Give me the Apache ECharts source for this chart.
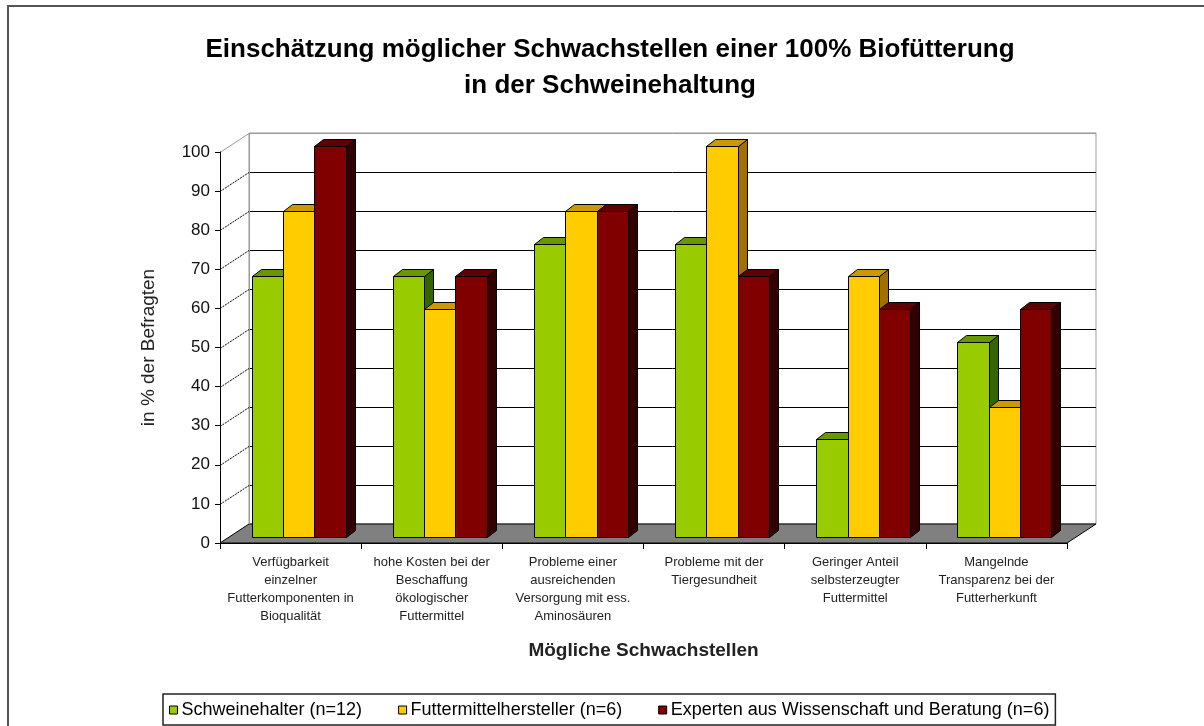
<!DOCTYPE html>
<html><head><meta charset="utf-8">
<script src="https://cdn.jsdelivr.net/npm/echarts@6/dist/echarts.min.js"></script>
<style>html,body{margin:0;padding:0;background:#fff}#c{width:1204px;height:726px}</style>
</head><body><div id="c"></div>
<script>
const categories = [
  "Verfügbarkeit\neinzelner\nFutterkomponenten in\nBioqualität",
  "hohe Kosten bei der\nBeschaffung\nökologischer\nFuttermittel",
  "Probleme einer\nausreichenden\nVersorgung mit ess.\nAminosäuren",
  "Probleme mit der\nTiergesundheit",
  "Geringer Anteil\nselbsterzeugter\nFuttermittel",
  "Mangelnde\nTransparenz bei der\nFutterherkunft"
];
const seriesNames = ["Schweinehalter (n=12)", "Futtermittelhersteller (n=6)", "Experten aus Wissenschaft und Beratung (n=6)"];
const schweinehalter = [66.7, 66.7, 75, 75, 25, 50];
const futtermittelhersteller = [83.3, 58.3, 83.3, 100, 66.7, 33.3];
const experten = [100, 66.7, 83.3, 66.7, 58.3, 58.3];
const yTicks = [0, 10, 20, 30, 40, 50, 60, 70, 80, 90, 100];

const FONT = "'Liberation Sans', Arial, sans-serif";
const palettes = [
  {front: '#99CC00', top: '#669900', side: '#336600'},
  {front: '#FFCC00', top: '#CC9900', side: '#A07000'},
  {front: '#800000', top: '#600000', side: '#330000'}
];
// depth offsets (pixels)
const WALL_DX = 29, WALL_DY = 19;   // back wall
const FACE_DX = 8, FACE_DY = 6;     // bar front face
const BAR_DX = 9, BAR_DY = 7;       // bar depth

function barRender(k) {
  const pal = palettes[k];
  return function (params, api) {
    const cat = api.value(0), val = api.value(1);
    const base = api.coord([cat, 0]);
    const top = api.coord([cat, val]);
    const bandW = api.size([1, 0])[0];
    const bw = bandW * 0.222;
    const x0 = Math.round(base[0] - 1.5 * bw + FACE_DX + k * bw) + 0.5;
    const x1 = Math.round(base[0] - 1.5 * bw + FACE_DX + (k + 1) * bw) + 0.5;
    const yb = Math.round(base[1] - FACE_DY) + 0.5;
    const yt = Math.round(top[1] - FACE_DY) + 0.5;
    const st = {stroke: '#000', lineWidth: 1};
    return {
      type: 'group',
      children: [
        {type: 'polygon', shape: {points: [[x1, yt], [x1 + BAR_DX, yt - BAR_DY], [x1 + BAR_DX, yb - BAR_DY], [x1, yb]]}, style: Object.assign({fill: pal.side}, st)},
        {type: 'polygon', shape: {points: [[x0, yt], [x0 + BAR_DX, yt - BAR_DY], [x1 + BAR_DX, yt - BAR_DY], [x1, yt]]}, style: Object.assign({fill: pal.top}, st)},
        {type: 'rect', shape: {x: x0, y: yt, width: x1 - x0, height: yb - yt}, style: Object.assign({fill: pal.front}, st)}
      ]
    };
  };
}

function decorRender(params, api) {
  const cs = params.coordSys;
  const x = cs.x, w = cs.width;
  const y0 = api.coord([0, 0])[1];
  const children = [];
  const bx = x + WALL_DX;
  const yTop = api.coord([0, yTicks[yTicks.length - 1]])[1];
  children.push({type: 'rect', shape: {x: bx, y: yTop - WALL_DY, width: w, height: y0 - yTop}, style: {fill: '#fff', stroke: '#999', lineWidth: 1}});
  children.push({type: 'polygon', shape: {points: [[x, y0], [x + w, y0], [x + w + WALL_DX, y0 - WALL_DY], [x + WALL_DX, y0 - WALL_DY]]}, style: {fill: '#808080', stroke: '#000', lineWidth: 1}});
  yTicks.forEach(function (v, i) {
    const yv = Math.round(api.coord([0, v])[1]) + 0.5;
    const isTop = i === yTicks.length - 1;
    if (v > 0) {
      children.push({type: 'line', shape: {x1: bx, y1: yv - WALL_DY, x2: bx + w, y2: yv - WALL_DY}, style: {stroke: isTop ? '#999' : '#000', lineWidth: 1}});
      children.push({type: 'line', shape: {x1: x, y1: yv, x2: bx, y2: yv - WALL_DY}, style: {stroke: isTop ? '#999' : '#000', lineWidth: 1, lineDash: isTop ? null : [2, 1]}});
    }
  });
  children.push({type: 'line', shape: {x1: bx + 0.5, y1: yTop - WALL_DY, x2: bx + 0.5, y2: y0 - WALL_DY}, style: {stroke: '#999', lineWidth: 1}});
  return {type: 'group', children: children};
}

const chart = echarts.init(document.getElementById('c'), null, {renderer: 'canvas'});
const allValues = [schweinehalter, futtermittelhersteller, experten];
const series = [{
  type: 'custom', name: 'decor', z: 1, silent: true,
  renderItem: decorRender, data: [[0, 0]]
}];
allValues.forEach(function (arr, k) {
  series.push({
    type: 'custom', name: seriesNames[k], z: 3,
    itemStyle: {color: palettes[k].front, borderColor: '#000', borderWidth: 1},
    renderItem: barRender(k),
    encode: {x: 0, y: 1},
    data: arr.map(function (v, i) { return [i, v]; })
  });
});

chart.setOption({
  animation: false,
  textStyle: {fontFamily: FONT},
  graphic: [{type: 'rect', shape: {x: 8, y: 6, width: 1300, height: 900}, style: {fill: null, stroke: '#555', lineWidth: 2}, silent: true}],
  title: {
    text: 'Einschätzung möglicher Schwachstellen einer 100% Biofütterung\nin der Schweinehaltung',
    left: 605, textAlign: 'center', top: 27,
    textStyle: {fontFamily: FONT, fontSize: 26, fontWeight: 'bold', color: '#000', lineHeight: 36}
  },
  legend: {
    data: seriesNames,
    left: 163, top: 694,
    orient: 'horizontal',
    icon: 'rect', itemWidth: 8, itemHeight: 8, itemGap: 36,
    itemStyle: {borderColor: '#000', borderWidth: 1},
    borderColor: '#222', borderWidth: 1.5,
    padding: [7, 6, 6, 6],
    textStyle: {fontFamily: FONT, fontSize: 18, color: '#000', padding: [0, 0, 0, -1]}
  },
  grid: {left: 220, top: 152, width: 847, height: 391, containLabel: false},
  xAxis: {
    type: 'category', data: categories, boundaryGap: true, z: 5,
    axisLine: {show: true, lineStyle: {color: '#000', width: 1}},
    axisTick: {show: true, length: 6, alignWithLabel: false, lineStyle: {color: '#000'}},
    axisLabel: {interval: 0, fontFamily: FONT, fontSize: 13, lineHeight: 18, color: '#222', margin: 10},
    name: 'Mögliche Schwachstellen', nameLocation: 'middle', nameGap: 98,
    nameTextStyle: {fontFamily: FONT, fontSize: 19, fontWeight: 'bold', color: '#222'}
  },
  yAxis: {
    type: 'value', min: 0, max: 100, interval: 10, z: 5,
    axisLine: {show: true, lineStyle: {color: '#000', width: 1}},
    axisTick: {show: true, length: 5, lineStyle: {color: '#000'}},
    splitLine: {show: false},
    axisLabel: {fontFamily: FONT, fontSize: 17, color: '#111', margin: 10},
    name: 'in % der Befragten', nameLocation: 'middle', nameGap: 62, nameRotate: 90,
    nameTextStyle: {fontFamily: FONT, fontSize: 19, color: '#222'}
  },
  tooltip: {show: false},
  series: series
});
</script></body></html>
